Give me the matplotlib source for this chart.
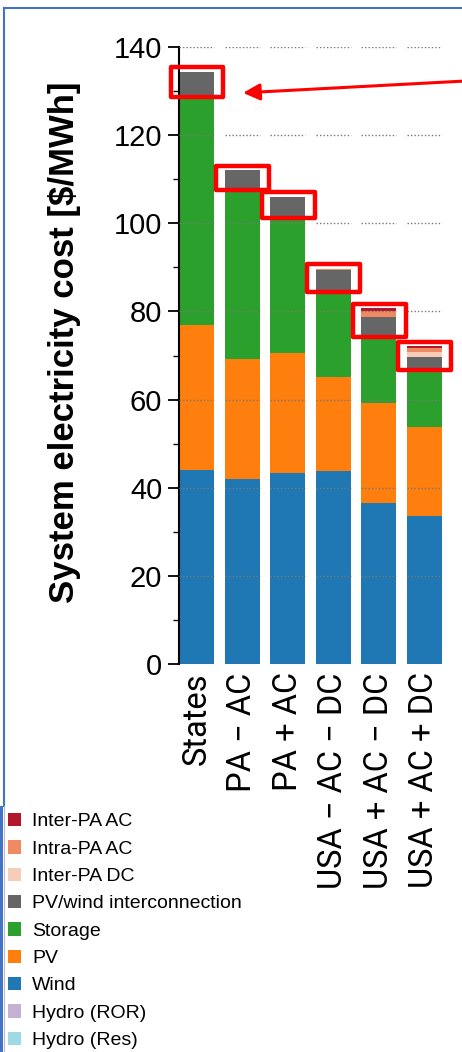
import numpy as np
import matplotlib
matplotlib.use('Agg')
from matplotlib import pyplot as plt
from matplotlib.patches import Patch, Rectangle
from matplotlib.lines import Line2D

# scenario labels
scenarios = ['States', 'PA \u2212 AC', 'PA + AC', 'USA \u2212 AC \u2212 DC',
             'USA + AC \u2212 DC', 'USA + AC + DC']

# cost components [$/MWh], stacked bottom to top
hydro_res = [0, 0, 0, 0, 0, 0]
hydro_ror = [0, 0, 0, 0, 0, 0]
wind = [44.0, 42.0, 43.3, 43.8, 36.5, 33.6]
pv = [33.0, 27.1, 27.3, 21.4, 22.8, 20.1]
storage = [52.1, 38.9, 31.1, 19.7, 15.4, 13.5]
interconnection = [5.3, 4.1, 4.3, 4.5, 4.1, 2.5]
inter_pa_dc = [0, 0, 0, 0, 0, 1.1]
intra_pa_ac = [0, 0, 0, 0.3, 1.3, 0.8]
inter_pa_ac = [0, 0, 0, 0, 0.7, 0.5]

layers = [
    ('Hydro (Res)', hydro_res, '#9edae5'),
    ('Hydro (ROR)', hydro_ror, '#c5b0d5'),
    ('Wind', wind, '#1f77b4'),
    ('PV', pv, '#ff7f0e'),
    ('Storage', storage, '#2ca02c'),
    ('PV/wind interconnection', interconnection, '#666666'),
    ('Inter-PA DC', inter_pa_dc, '#f6cdb8'),
    ('Intra-PA AC', intra_pa_ac, '#ef8a62'),
    ('Inter-PA AC', inter_pa_ac, '#b2182b'),
]

yticks = [0, 20, 40, 60, 80, 100, 120, 140]

fig = plt.figure(figsize=(4.62, 10.52), dpi=100)
ax = fig.add_axes([0.3874, 0.3688, 0.5693, 0.5865])

x = np.arange(len(scenarios))
w = 0.77
bottom = np.zeros(len(scenarios))
for name, vals, col in layers:
    vals = np.array(vals, dtype=float)
    ax.bar(x, vals, w, bottom=bottom, color=col, edgecolor='none', zorder=2)
    bottom += vals
total = bottom.copy()
stor_top = np.array(wind) + np.array(pv) + np.array(storage)

# dotted grid drawn on top of the bars, only across each bar
for yv in yticks[1:]:
    ax.hlines([yv] * len(x), x - w / 2, x + w / 2, colors='#777777',
              linestyles=(0, (1, 1.5)), linewidth=1.0, zorder=3)

ax.set_xlim(-w / 2, len(x) - 1 + w / 2)
ax.set_ylim(0, 140)
ax.set_yticks(yticks)
ax.set_yticks(np.arange(0, 141, 10), minor=True)
ax.tick_params(axis='y', which='major', length=8, width=1.3, labelsize=21, pad=4)
ax.tick_params(axis='y', which='minor', length=4.5, width=1.0)
for lab in ax.get_yticklabels():
    lab.set_fontfamily('Liberation Sans')
ax.set_xticks(x)
ax.set_xticklabels(scenarios, rotation=90, fontsize=23.5,
                   family=['Roboto', 'DejaVu Sans'], va='top')
ax.tick_params(axis='x', length=0, pad=6)
for s in ['top', 'right', 'bottom']:
    ax.spines[s].set_visible(False)
ax.spines['left'].set_linewidth(1.5)

fig.text(65 / 462, 0.6744, 'System electricity cost [$/MWh]', rotation=90,
         ha='center', va='center', fontsize=25, fontweight='bold',
         family='Liberation Sans')

# red highlight boxes around the transmission part of each bar
for i in range(len(x)):
    lo = stor_top[i] - 0.4
    hi = total[i] + 1.0
    ax.add_patch(Rectangle((i - 0.57, lo), 1.16, hi - lo, fill=False,
                           edgecolor='#ff0000', linewidth=3.2, zorder=5,
                           clip_on=False, joinstyle='round'))

ax.annotate('', xy=(1.02, 129.6), xytext=(6.1, 132.4),
            arrowprops=dict(arrowstyle='-|>,head_length=1.0,head_width=0.5',
                            color='#ff0000', lw=2.2, shrinkA=0, shrinkB=0),
            annotation_clip=False, zorder=6)

# slide frame
blue = '#4472c4'
fig.add_artist(Line2D([4 / 462, 1], [1 - 8 / 1052] * 2, color=blue, lw=1.5))
fig.add_artist(Line2D([4 / 462] * 2, [1 - 8 / 1052, 1 - 806 / 1052], color=blue, lw=1.5))
fig.add_artist(Rectangle((0, 0), 3 / 462, 1 - 806 / 1052, color=blue, lw=0))
fig.add_artist(Line2D([3.5 / 462] * 2, [0, 1 - 806 / 1052], color='#bbbbbb', lw=0.8))

handles = [Patch(facecolor=col, edgecolor='none', label=name)
           for name, vals, col in layers[::-1]]
fig.legend(handles=handles, loc='upper left', bbox_to_anchor=(2 / 462, 1 - 807 / 1052),
           frameon=False, prop={'family': 'Liberation Sans', 'size': 14},
           handlelength=0.7, handleheight=0.7, handletextpad=0.55,
           labelspacing=0.5, borderaxespad=0, borderpad=0.3)

fig.savefig('out.png', dpi=100)
